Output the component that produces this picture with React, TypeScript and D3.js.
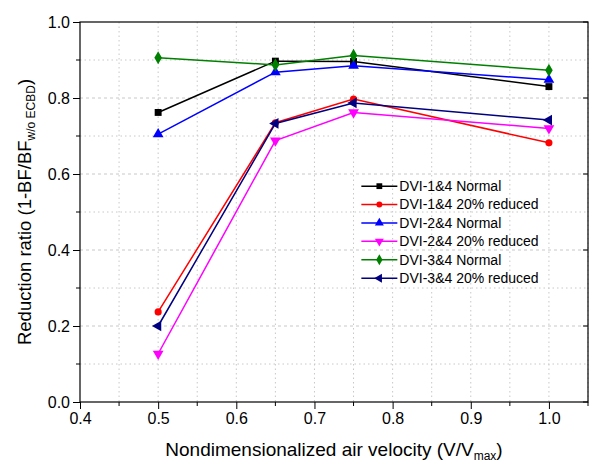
import React, { useEffect, useRef } from 'react';
import * as d3 from 'd3';

// x positions (V/Vmax) shared by every series
const velocity = [0.5, 0.65, 0.75, 1.0];

const dvi14Normal = [0.762, 0.897, 0.896, 0.83];
const dvi14Reduced = [0.237, 0.735, 0.797, 0.682];
const dvi24Normal = [0.705, 0.868, 0.885, 0.848];
const dvi24Reduced = [0.127, 0.688, 0.762, 0.72];
const dvi34Normal = [0.906, 0.887, 0.912, 0.873];
const dvi34Reduced = [0.2, 0.733, 0.787, 0.742];

const seriesNames = [
    'DVI-1&4 Normal',
    'DVI-1&4 20% reduced',
    'DVI-2&4 Normal',
    'DVI-2&4 20% reduced',
    'DVI-3&4 Normal',
    'DVI-3&4 20% reduced',
];

const xTicks = [0.4, 0.5, 0.6, 0.7, 0.8, 0.9, 1.0];
const yTicks = [0.0, 0.2, 0.4, 0.6, 0.8, 1.0];

const FONT = 'Arial, "Liberation Sans", sans-serif';

const App = () => {
    const ref = useRef<SVGSVGElement>(null);

    useEffect(() => {
        const svg = d3.select(ref.current);
        svg.selectAll('*').remove();

        const margin = { top: 22, right: 5, bottom: 64, left: 80 };
        const width = 593 - margin.left - margin.right;
        const height = 466 - margin.top - margin.bottom;

        const x = d3.scaleLinear().domain([0.4, 1.05]).range([0, width]);
        const y = d3.scaleLinear().domain([0, 1]).range([height, 0]);

        const g = svg.append('g')
            .attr('transform', `translate(${margin.left},${margin.top})`);

        // grid lines, dotted grey
        g.append('g')
            .selectAll('line')
            .data(d3.range(0.45, 1.05, 0.05))
            .enter()
            .append('line')
            .attr('x1', (d) => x(d))
            .attr('x2', (d) => x(d))
            .attr('y1', 0)
            .attr('y2', height)
            .attr('stroke', '#c8c8c8')
            .attr('stroke-dasharray', '1.5,3');

        g.append('g')
            .selectAll('line')
            .data(d3.range(0.1, 1.0, 0.1))
            .enter()
            .append('line')
            .attr('x1', 0)
            .attr('x2', width)
            .attr('y1', (d) => y(d))
            .attr('y2', (d) => y(d))
            .attr('stroke', '#c8c8c8')
            .attr('stroke-dasharray', (d, i) => (i % 2 === 1 ? '3,3' : '1.5,3'));

        // frame
        g.append('rect')
            .attr('width', width)
            .attr('height', height)
            .attr('fill', 'none')
            .attr('stroke', '#000')
            .attr('stroke-width', 1.2);

        // axes
        const xAxis = d3.axisBottom(x)
            .tickValues(xTicks)
            .tickFormat(d3.format('.1f'))
            .tickSize(7)
            .tickPadding(4);
        const gx = g.append('g')
            .attr('transform', `translate(0,${height})`)
            .call(xAxis);
        gx.select('.domain').remove();
        gx.selectAll('text')
            .style('font-family', FONT)
            .style('font-size', '16px')
            .attr('fill', '#000');

        g.append('g')
            .attr('transform', `translate(0,${height})`)
            .selectAll('line')
            .data(d3.range(0.45, 1.05, 0.1))
            .enter()
            .append('line')
            .attr('x1', (d) => x(d))
            .attr('x2', (d) => x(d))
            .attr('y1', 0)
            .attr('y2', 4)
            .attr('stroke', '#000');

        const yAxis = d3.axisLeft(y)
            .tickValues(yTicks)
            .tickFormat(d3.format('.1f'))
            .tickSize(7)
            .tickPadding(3);
        const gy = g.append('g').call(yAxis);
        gy.select('.domain').remove();
        gy.selectAll('text')
            .style('font-family', FONT)
            .style('font-size', '16px')
            .attr('fill', '#000');

        g.append('g')
            .selectAll('line')
            .data(d3.range(0.1, 1.0, 0.2))
            .enter()
            .append('line')
            .attr('x1', 0)
            .attr('x2', -4)
            .attr('y1', (d) => y(d))
            .attr('y2', (d) => y(d))
            .attr('stroke', '#000');

        // inward ticks on the right side
        g.append('g')
            .selectAll('line')
            .data(yTicks)
            .enter()
            .append('line')
            .attr('x1', width)
            .attr('x2', width - 5)
            .attr('y1', (d) => y(d))
            .attr('y2', (d) => y(d))
            .attr('stroke', '#000');

        // axis titles
        const xTitle = svg.append('text')
            .attr('x', margin.left + x(0.725))
            .attr('y', 456)
            .attr('text-anchor', 'middle')
            .style('font-family', FONT)
            .style('font-size', '19px');
        xTitle.append('tspan').text('Nondimensionalized air velocity (V/V');
        xTitle.append('tspan').attr('dy', 4).style('font-size', '12px').text('max');
        xTitle.append('tspan').attr('dy', -4).text(')');

        const yTitle = svg.append('text')
            .attr('transform', `translate(31,${margin.top + y(0.5)}) rotate(-90)`)
            .attr('text-anchor', 'middle')
            .style('font-family', FONT)
            .style('font-size', '18.5px');
        yTitle.append('tspan').text('Reduction ratio (1-BF/BF');
        yTitle.append('tspan').attr('dy', 4).style('font-size', '12px').text('w/o ECBD');
        yTitle.append('tspan').attr('dy', -4).text(')');

        const series = [
            { name: seriesNames[0], values: dvi14Normal, color: '#000000', symbol: d3.symbolSquare, size: 48, rot: 0 },
            { name: seriesNames[1], values: dvi14Reduced, color: '#ff0000', symbol: d3.symbolCircle, size: 40, rot: 0 },
            { name: seriesNames[2], values: dvi24Normal, color: '#0000ff', symbol: d3.symbolTriangle, size: 50, rot: 0 },
            { name: seriesNames[3], values: dvi24Reduced, color: '#ff00ff', symbol: d3.symbolTriangle, size: 50, rot: 180 },
            { name: seriesNames[4], values: dvi34Normal, color: '#008000', symbol: d3.symbolDiamond, size: 50, rot: 0 },
            { name: seriesNames[5], values: dvi34Reduced, color: '#000080', symbol: d3.symbolTriangle, size: 50, rot: -90 },
        ];

        const line = d3.line<number>()
            .x((d, i) => x(velocity[i]))
            .y((d) => y(d));

        series.forEach((s) => {
            g.append('path')
                .datum(s.values)
                .attr('d', line)
                .attr('fill', 'none')
                .attr('stroke', s.color)
                .attr('stroke-width', 1.5);

            g.append('g')
                .selectAll('path')
                .data(s.values)
                .enter()
                .append('path')
                .attr('d', d3.symbol().type(s.symbol).size(s.size))
                .attr('transform', (d, i) => `translate(${x(velocity[i])},${y(d)}) rotate(${s.rot})`)
                .attr('fill', s.color);
        });

        // legend
        const legend = g.append('g')
            .attr('transform', `translate(${x(0.76)},${y(0.568)})`);
        series.forEach((s, i) => {
            const row = legend.append('g').attr('transform', `translate(0,${i * 18.4})`);
            row.append('line')
                .attr('x1', 0)
                .attr('x2', 36)
                .attr('stroke', s.color)
                .attr('stroke-width', 1.5);
            row.append('path')
                .attr('d', d3.symbol().type(s.symbol).size(s.size * 0.7))
                .attr('transform', `translate(18,0) rotate(${s.rot})`)
                .attr('fill', s.color);
            row.append('text')
                .attr('x', 38)
                .attr('dy', '0.35em')
                .style('font-family', FONT)
                .style('font-size', '14px')
                .text(s.name);
        });
    }, []);

    return (
        <svg
            ref={ref}
            width={593}
            height={466}
            style={{ position: 'absolute', left: 0, top: 0, background: '#fff' }}
        />
    );
};

export default App;
